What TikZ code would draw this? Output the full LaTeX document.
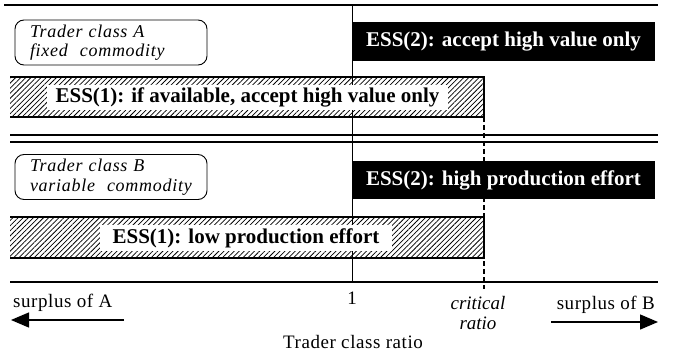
\documentclass[tikz,border=0pt]{standalone}
\usepackage{fontspec}
\setmainfont{Liberation Serif}
\usetikzlibrary{patterns.meta,arrows.meta}

\newcommand*{\xLeft}{10}
\newcommand*{\xRight}{658}
\newcommand*{\xOne}{352}
\newcommand*{\xCrit}{484}
\newcommand*{\yTop}{5}
\newcommand*{\yAxis}{282}

\tikzset{
    hatchfill/.style={pattern={Lines[angle=45,distance=3.6pt,line width=0.75pt]}},
    baredge/.style={line width=1.3pt},
    insetbox/.style={fill=white, inner sep=0pt, font=\bfseries\fontsize{21}{23}\selectfont},
    essbox/.style={fill=black, text=white, inner sep=0pt, font=\bfseries\fontsize{21}{23}\selectfont},
    classbox/.style={draw, rounded corners=9pt, line width=0.9pt, align=left, text width=170pt,
        inner xsep=11pt, minimum height=45pt,
        font=\itshape\fontsize{18}{19.5}\selectfont\addfontfeatures{LetterSpace=4}},
    axislabel/.style={inner sep=0pt, font=\fontsize{19}{20}\selectfont\addfontfeatures{LetterSpace=3}},
}

\begin{document}
\begin{tikzpicture}[x=1pt,y=-1pt]
    \useasboundingbox (0,0) rectangle (676,358);

    % frame lines
    \draw [line width=1.5pt] (4,\yTop) -- (\xRight,\yTop);
    \draw [line width=1.2pt] (\xLeft,135) -- (\xRight,135);
    \draw [line width=1.2pt] (\xLeft,142) -- (\xRight,142);
    \draw [line width=1.2pt] (\xLeft,\yAxis) -- (\xRight,\yAxis);
    \draw [line width=1pt] (\xOne,\yTop) -- (\xOne,\yAxis);
    \draw [line width=2pt, dash pattern=on 5pt off 3pt] (\xCrit,117) -- (\xCrit,289);

    % trader class A
    \node [classbox] (classA) at (111,42.5) {\hspace*{4pt}Trader class A\\\hspace*{4pt}fixed\ \ commodity};
    \node [essbox, minimum width=303pt, minimum height=39pt] (essA2) at (503.5,41.5) {ESS(2): accept high value only};
    \fill [hatchfill] (\xLeft,77) rectangle (\xCrit,117);
    \draw [baredge] (\xLeft,77) -- (\xCrit,77) -- (\xCrit,117) -- (\xLeft,117);
    \node [insetbox, minimum width=401pt, minimum height=25pt] (essA1) at (247.5,97.5) {ESS(1): if available, accept high value only};

    % trader class B
    \node [classbox] (classB) at (111,177) {\hspace*{4pt}Trader class B\\\hspace*{4pt}variable\ \ commodity};
    \node [essbox, minimum width=303pt, minimum height=38pt] (essB2) at (503.5,180) {ESS(2): high production effort};
    \fill [hatchfill] (\xLeft,217) rectangle (\xCrit,258);
    \draw [baredge] (\xLeft,217) -- (\xCrit,217) -- (\xCrit,258) -- (\xLeft,258);
    \node [insetbox, minimum width=292pt, minimum height=26pt] (essB1) at (246,238) {ESS(1): low production effort};

    % axis labels
    \node [axislabel] (one) at (\xOne,298) {1};
    \node [axislabel, align=center, font=\itshape\fontsize{19}{20}\selectfont] (crit) at (478,313) {critical\\ratio};
    \node [axislabel, anchor=base west] (surA) at (13,307) {surplus of A};
    \node [axislabel, anchor=base east] (surB) at (655,309) {surplus of B};
    \node [axislabel, anchor=base] (ratio) at (353,348) {Trader class ratio};

    \coordinate (arrA) at (124,320);
    \coordinate (tipA) at (11,320);
    \coordinate (arrB) at (551,322);
    \coordinate (tipB) at (658,322);
    \draw [line width=1.3pt, -{Triangle[length=18pt,width=15pt]}] (arrA) -- (tipA);
    \draw [line width=1.3pt, -{Triangle[length=18pt,width=15pt]}] (arrB) -- (tipB);

\end{tikzpicture}
\end{document}
